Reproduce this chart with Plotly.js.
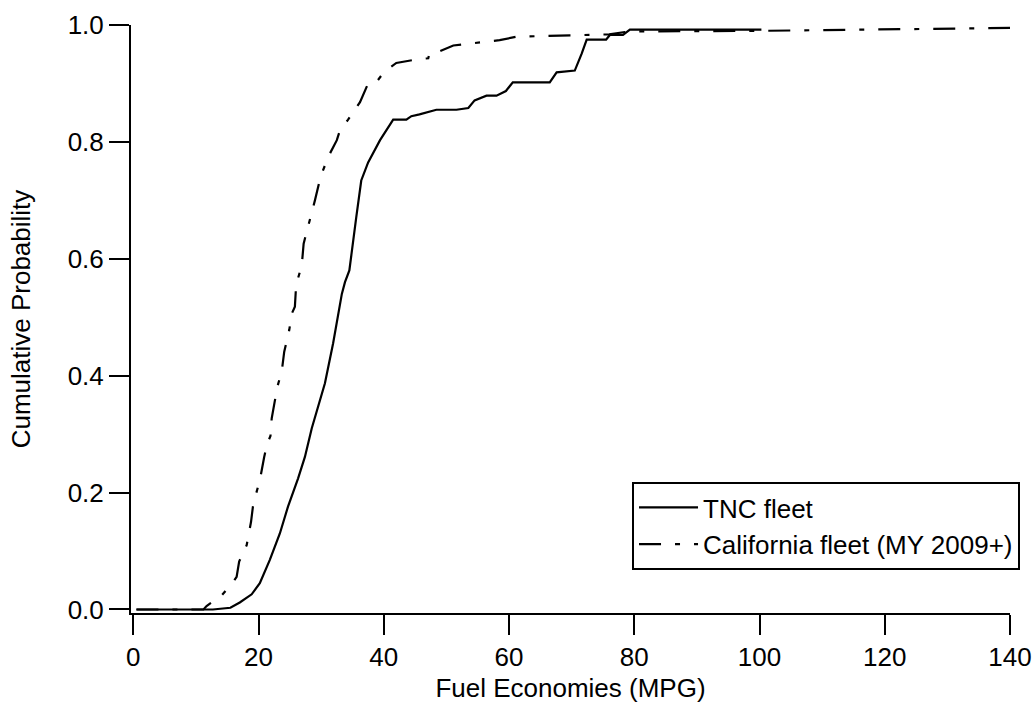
<!DOCTYPE html>
<html>
<head>
<meta charset="utf-8">
<script src="https://cdn.plot.ly/plotly-3.0.1.min.js"></script>
<style>html,body{margin:0;padding:0;background:#fff;}#chart{width:1036px;height:706px;}</style>
</head>
<body>
<div id="chart"></div>
<script>
// TNC fleet cumulative distribution (MPG, probability)
const tncMpg = [0.5, 5, 10, 12.7, 15.5, 17.0, 18.9, 20.2, 21.8, 23.4, 24.7, 26.3, 27.4, 28.5, 30.6, 31.9, 33.3, 33.8, 34.5, 35.2, 35.6, 36.4, 37.5, 39.4, 41.5, 43.6, 44.4, 45.7, 47.3, 48.4, 51.6, 53.5, 54.5, 56.4, 58.0, 59.5, 60.6, 66.5, 67.6, 70.5, 71.6, 72.4, 75.5, 76.1, 78.2, 79.3, 100.3];
const tncProb = [0, 0, 0, 0, 0.003, 0.012, 0.026, 0.045, 0.085, 0.13, 0.176, 0.224, 0.261, 0.31, 0.387, 0.455, 0.54, 0.56, 0.58, 0.643, 0.671, 0.734, 0.765, 0.803, 0.838, 0.838, 0.844, 0.847, 0.851, 0.855, 0.855, 0.858, 0.871, 0.879, 0.879, 0.887, 0.902, 0.902, 0.919, 0.922, 0.951, 0.975, 0.975, 0.983, 0.983, 0.992, 0.992];

// California fleet (MY 2009+) cumulative distribution
const caMpg = [0.5, 11.2, 11.7, 14.1, 16.0, 16.5, 16.9, 18.1, 18.8, 19.1, 19.4, 20.2, 20.9, 21.4, 21.9, 22.1, 23.0, 23.7, 24.1, 24.9, 25.3, 25.8, 26.0, 26.9, 27.2, 28.2, 29.0, 29.9, 31.1, 32.5, 33.0, 34.3, 36.2, 37.5, 38.8, 40.0, 42.0, 45.7, 47.1, 47.3, 48.7, 51.1, 54.8, 58.5, 61.2, 68.9, 72.4, 76.0, 78.5, 80.0, 100.0, 120.0, 140.0];
const caProb = [0, 0, 0.006, 0.024, 0.048, 0.056, 0.082, 0.11, 0.15, 0.176, 0.19, 0.221, 0.261, 0.284, 0.297, 0.327, 0.381, 0.407, 0.441, 0.478, 0.506, 0.518, 0.555, 0.589, 0.626, 0.666, 0.70, 0.74, 0.774, 0.803, 0.82, 0.838, 0.868, 0.90, 0.902, 0.919, 0.935, 0.942, 0.943, 0.952, 0.954, 0.965, 0.970, 0.974, 0.980, 0.982, 0.983, 0.984, 0.988, 0.989, 0.990, 0.992, 0.995];

const xTicks = [0, 20, 40, 60, 80, 100, 120, 140];
const yTicks = [0.0, 0.2, 0.4, 0.6, 0.8, 1.0];
const yTickText = ["0.0", "0.2", "0.4", "0.6", "0.8", "1.0"];
const seriesNames = ["TNC fleet", "California fleet (MY 2009+)"];

const font = {family: "Liberation Sans, Arial, sans-serif", size: 26, color: "#000"};

const traces = [
  {x: tncMpg, y: tncProb, name: seriesNames[0], mode: "lines", line: {color: "#000", width: 2.2}},
  {x: caMpg, y: caProb, name: seriesNames[1], mode: "lines", line: {color: "#000", width: 2.2, dash: "22px,14px,5px,14px"}}
];

const layout = {
  width: 1036, height: 706,
  margin: {l: 131, r: 26, t: 25, b: 93, pad: 0},
  paper_bgcolor: "#fff", plot_bgcolor: "#fff",
  font: font,
  showlegend: true,
  legend: {
    x: 1.0114, xanchor: "right", xref: "paper",
    y: 0.2228, yanchor: "top",
    bordercolor: "#000", borderwidth: 2, bgcolor: "#fff",
    font: font, itemwidth: 59, tracegroupgap: 0
  },
  xaxis: {
    range: [-0.37, 140], tickvals: xTicks, ticktext: xTicks.map(String),
    showline: true, linecolor: "#000", linewidth: 2, mirror: false,
    ticks: "outside", ticklen: 20, tickwidth: 2, tickcolor: "#000",
    showgrid: false, zeroline: false, tickfont: font,
    title: {text: "Fuel Economies (MPG)", font: font, standoff: 8}
  },
  yaxis: {
    range: [-0.006, 1.0], tickvals: yTicks, ticktext: yTickText,
    showline: true, linecolor: "#000", linewidth: 2,
    ticks: "outside", ticklen: 20, tickwidth: 2, tickcolor: "#000",
    showgrid: false, zeroline: false, tickfont: font,
    title: {text: "Cumulative Probability", font: font, standoff: 30}
  }
};

Plotly.newPlot("chart", traces, layout, {displayModeBar: false, staticPlot: true});
</script>
</body>
</html>
